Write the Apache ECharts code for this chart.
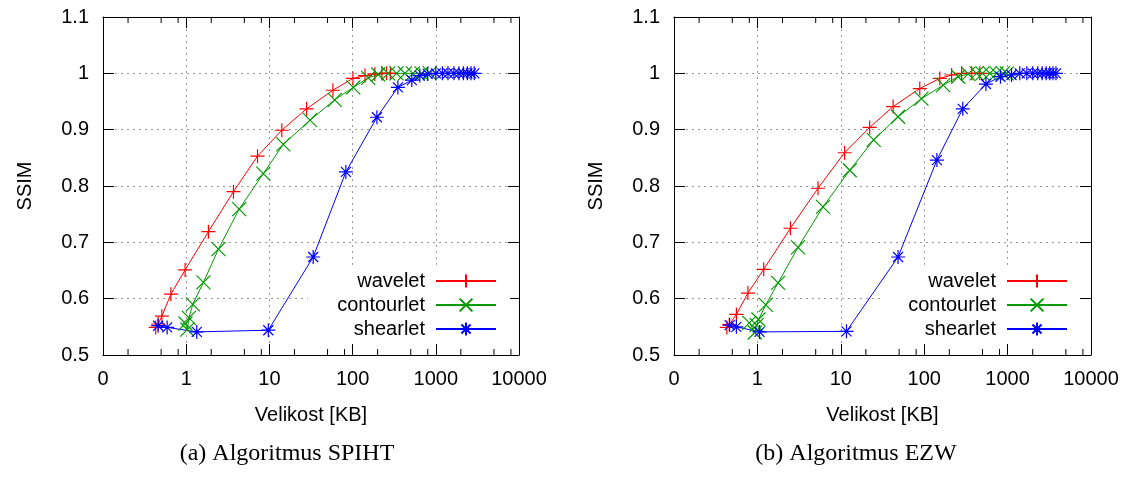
<!DOCTYPE html>
<html>
<head>
<meta charset="utf-8">
<script src="https://cdn.jsdelivr.net/npm/echarts@6/dist/echarts.min.js"></script>
<style>
  html, body { margin: 0; padding: 0; background: #fff; }
  #chart { width: 1128px; height: 477px; }
</style>
</head>
<body>
<div id="chart"></div>
<script>
// Series names and tick values
const seriesNames = ['wavelet', 'contourlet', 'shearlet'];
const yTicks = [0.5, 0.6, 0.7, 0.8, 0.9, 1.0, 1.1];
const xMinorTicks = [0.2, 0.5, 0.8, 2, 5, 8, 20, 50, 80, 200, 500, 800, 2000, 5000, 8000];
const captions = ['(a) Algoritmus SPIHT', '(b) Algoritmus EZW'];

// SPIHT: [size in KB, SSIM]
const spihtWavelet = [[0.43,0.549],[0.46,0.555],[0.51,0.569],[0.655,0.608],[0.97,0.651],[1.85,0.719],[3.7,0.790],[7.2,0.853],[14.1,0.899],[28,0.937],[58,0.970],[101,0.991],[141,0.996],[185,0.999],[225,1.0],[256,1.0],[285,1.0]];
const spihtContourlet = [[0.98,0.556],[1.03,0.545],[1.08,0.566],[1.2,0.590],[1.61,0.629],[2.44,0.688],[4.33,0.759],[8.45,0.822],[14.7,0.874],[30.8,0.917],[61,0.953],[102,0.975],[154,0.992],[203,0.998],[267,1.0],[337,1.0],[425,1.0],[530,1.0],[673,1.0],[847,1.0]];
const spihtShearlet = [[0.46,0.552],[0.59,0.549],[1.34,0.541],[9.7,0.544],[33.6,0.674],[83,0.825],[196,0.922],[350,0.975],[515,0.988],[643,0.996],[800,0.999],[1000,1.0],[1200,1.0],[1400,1.0],[1650,1.0],[1900,1.0],[2150,1.0],[2400,1.0],[2650,1.0],[2900,1.0]];

// EZW: [size in KB, SSIM]
const ezwWavelet = [[0.43,0.549],[0.46,0.554],[0.56,0.572],[0.77,0.610],[1.19,0.652],[2.49,0.725],[5.33,0.796],[11.1,0.859],[22.2,0.904],[42.4,0.941],[88.5,0.973],[154,0.991],[213,0.997],[281,1.0],[372,1.0],[464,1.0]];
const ezwContourlet = [[0.80,0.557],[0.93,0.540],[0.98,0.553],[1.03,0.563],[1.26,0.589],[1.77,0.628],[3.07,0.691],[6.12,0.763],[12.8,0.828],[24.8,0.882],[48.6,0.923],[92.7,0.955],[169,0.979],[255,0.994],[337,0.999],[424,1.0],[500,1.0],[612,1.0],[736,1.0],[877,1.0],[980,1.0]];
const ezwShearlet = [[0.465,0.553],[0.56,0.550],[1.06,0.541],[11.7,0.542],[48.6,0.674],[142,0.846],[290,0.937],[550,0.981],[822,0.994],[1114,0.997],[1400,1.0],[1700,1.0],[2000,1.0],[2300,1.0],[2600,1.0],[2900,1.0],[3200,1.0],[3500,1.0],[3800,1.0]];

const colors = ['#ff0000', '#009a00', '#0000ff'];
const symbols = [
  'path://M0,7L14,7M7,0L7,14',
  'path://M0,0L14,14M14,0L0,14',
  'path://M0,7L14,7M7,0L7,14M2,2L12,12M12,2L2,12'
];
const SANS = 'Liberation Sans, Arial, sans-serif';
const SERIF = 'Liberation Serif, Times New Roman, serif';

const grids = [
  { left: 103, right: 609, top: 17, bottom: 122 },
  { left: 674, right: 37, top: 17, bottom: 122 }
];

const xAxes = [];
const yAxes = [];
grids.forEach((g, gi) => {
  const common = {
    gridIndex: gi, type: 'log', logBase: 10, min: 0.1, max: 10000,
    axisLine: { show: true, lineStyle: { color: '#000', width: 1 } },
    axisTick: { show: true, inside: true, length: 11, lineStyle: { color: '#000', width: 1 } }
  };
  xAxes.push(Object.assign({}, common, {
    position: 'bottom',
    name: 'Velikost [KB]', nameLocation: 'middle', nameGap: 50,
    nameTextStyle: { fontFamily: SANS, fontSize: 20, color: '#000' },
    axisLabel: {
      margin: 14, fontFamily: SANS, fontSize: 20, color: '#000',
      formatter: v => (v < 1 ? '0' : String(Math.round(v)))
    },
    splitLine: { show: true, lineStyle: { color: '#999', type: [2, 4], width: 1 } }
  }));
  xAxes.push(Object.assign({}, common, {
    position: 'top', axisLabel: { show: false }, splitLine: { show: false }
  }));
  const ycommon = {
    gridIndex: gi, type: 'value', min: 0.5, max: 1.1, interval: 0.1,
    axisLine: { show: true, lineStyle: { color: '#000', width: 1 } },
    axisTick: { show: true, inside: true, length: 11, lineStyle: { color: '#000', width: 1 } }
  };
  yAxes.push(Object.assign({}, ycommon, {
    position: 'left',
    name: 'SSIM', nameLocation: 'middle', nameGap: 68,
    nameTextStyle: { fontFamily: SANS, fontSize: 20, color: '#000' },
    axisLabel: {
      margin: 14, fontFamily: SANS, fontSize: 20, color: '#000',
      formatter: v => String(Math.round(v * 10) / 10)
    },
    splitLine: { show: true, lineStyle: { color: '#999', type: [2, 4], width: 1 } }
  }));
  yAxes.push(Object.assign({}, ycommon, {
    position: 'right', axisLabel: { show: false }, splitLine: { show: false }
  }));
});

function lineSeries(name, data, idx, gi) {
  return {
    type: 'line', name: name, data: data,
    xAxisIndex: gi * 2, yAxisIndex: gi * 2,
    symbol: symbols[idx], symbolSize: 14, showSymbol: true, showAllSymbol: true,
    lineStyle: { color: colors[idx], width: 1 },
    itemStyle: { color: 'none', borderColor: colors[idx], borderWidth: 1.2 },
    emphasis: { disabled: true }, z: 3
  };
}

// minor log ticks (2, 5, 8 per decade) on bottom and top edges
function minorTickSeries(gi) {
  return {
    type: 'custom', xAxisIndex: gi * 2, yAxisIndex: gi * 2, silent: true, z: 3,
    data: xMinorTicks.map(v => [v, yTicks[0]]),
    renderItem: (params, api) => {
      const v = api.value(0);
      const b = api.coord([v, yTicks[0]]);
      const t = api.coord([v, yTicks[yTicks.length - 1]]);
      const st = { stroke: '#000', lineWidth: 1 };
      return {
        type: 'group', children: [
          { type: 'line', shape: { x1: b[0], y1: b[1], x2: b[0], y2: b[1] - 6 }, style: st },
          { type: 'line', shape: { x1: t[0], y1: t[1], x2: t[0], y2: t[1] + 6 }, style: st }
        ]
      };
    }
  };
}

const panels = [
  [spihtWavelet, spihtContourlet, spihtShearlet],
  [ezwWavelet, ezwContourlet, ezwShearlet]
];
const series = [];
panels.forEach((p, gi) => {
  p.forEach((d, i) => series.push(lineSeries(seriesNames[i], d, i, gi)));
  series.push(minorTickSeries(gi));
});

const legendCommon = {
  orient: 'vertical', align: 'right', top: 271, padding: 0,
  itemWidth: 60, itemHeight: 16, itemGap: 4,
  selectedMode: false,
  textStyle: { fontFamily: SANS, fontSize: 20, color: '#000', lineHeight: 20, padding: [0, 6, 0, 0] },
  data: seriesNames
};

const option = {
  animation: false,
  backgroundColor: '#fff',
  grid: grids,
  xAxis: xAxes,
  yAxis: yAxes,
  legend: [
    Object.assign({}, legendCommon, { right: 631 }),
    Object.assign({}, legendCommon, { right: 60 })
  ],
  graphic: [
    // opaque key boxes
    { type: 'rect', z: 1, silent: true, shape: { x: 308, y: 268, width: 202, height: 76 }, style: { fill: '#fff' } },
    { type: 'rect', z: 1, silent: true, shape: { x: 880, y: 268, width: 200, height: 76 }, style: { fill: '#fff' } },
    { type: 'text', z: 5, x: 287, y: 442,
      style: { text: captions[0], font: '24px ' + SERIF, fill: '#000', textAlign: 'center' } },
    { type: 'text', z: 5, x: 856, y: 442,
      style: { text: captions[1], font: '24px ' + SERIF, fill: '#000', textAlign: 'center' } }
  ],
  series: series
};

const chart = echarts.init(document.getElementById('chart'), null, { renderer: 'canvas' });
chart.setOption(option);
</script>
</body>
</html>
